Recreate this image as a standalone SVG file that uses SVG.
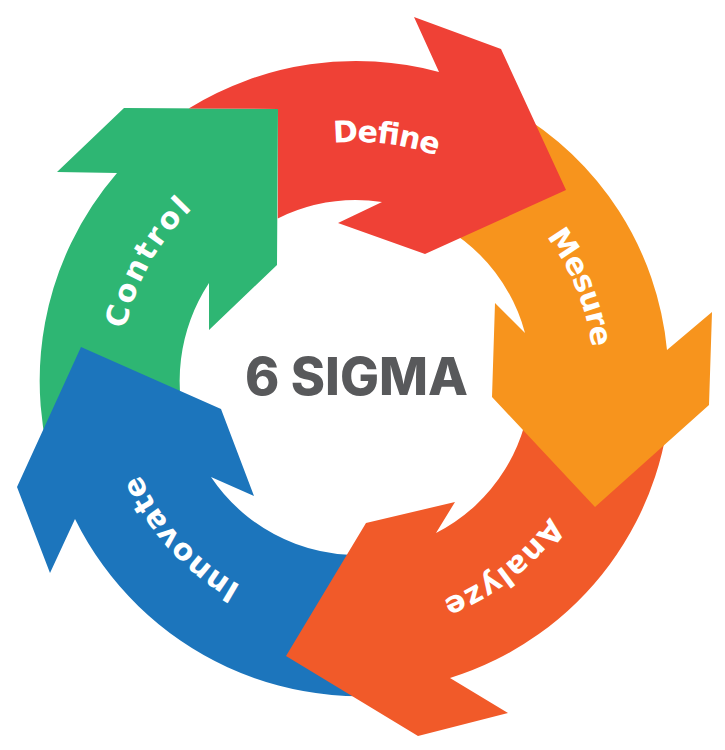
<svg xmlns="http://www.w3.org/2000/svg" width="725" height="750" viewBox="0 0 725 750">
  <style>
    .lbl { font-family: "DejaVu Sans", "Liberation Sans", sans-serif; font-weight: 700; font-size: 30px; fill: #ffffff; }
    .title { font-family: Inter, "Liberation Sans", sans-serif; font-weight: 800; font-size: 52px; fill: #58595B; }
  </style>
  <defs>
    <path id="ring" d="M 120,379 A 237 237 0 1 1 594,379 A 237 237 0 1 1 120,379"/>
  </defs>
  <rect width="725" height="750" fill="#ffffff"/>
  <g id="control">
    <path fill="#2EB673" d="M 58.2,487.8 A 318 318 0 0 1 117,173 L 57,172 L 124,108 L 278,109 L 277,265 L 209,330 L 209,283 A 178 178 0 0 0 189.7,439.9 Z"/>
    <text class="lbl"><textPath href="#ring" startOffset="120" text-anchor="middle" textLength="140" lengthAdjust="spacing">Control</textPath></text>
  </g>
  <g id="innovate">
    <path fill="#1C75BC" d="M 439.3,686.2 A 318 318 0 0 1 75,519 L 50,573 L 17,487 L 81,347 L 221,409 L 254,496 L 211,477 A 176 176 0 0 0 402.6,549 Z"/>
    <text class="lbl"><textPath href="#ring" startOffset="1314" text-anchor="middle" textLength="153" lengthAdjust="spacing">Innovate</textPath></text>
  </g>
  <g id="analyze">
    <path fill="#F15A29" d="M 671,379 A 314 314 0 0 1 450,678 L 508,713 L 418,736 L 286,656 L 366,523 L 455,502 L 436,533 A 174 174 0 0 0 531,379 Z"/>
    <text class="lbl"><textPath href="#ring" startOffset="960" text-anchor="middle" textLength="137" lengthAdjust="spacing">Analyze</textPath></text>
  </g>
  <g id="mesure">
    <path fill="#F7941D" d="M 512.5,109.7 A 311 311 0 0 1 667,350 L 712,312 L 709,405 L 595,507 L 492,397 L 495,303 L 525,333 A 175 175 0 0 0 444.5,227.4 Z"/>
    <text class="lbl"><textPath href="#ring" startOffset="652" text-anchor="middle" textLength="121" lengthAdjust="spacing">Mesure</textPath></text>
  </g>
  <g id="define">
    <path fill="#EF4136" d="M 188.7,108.4 A 319 319 0 0 1 439,72 L 414,17 L 501,49 L 566,190 L 425,254 L 338,223 L 382,202 A 179 179 0 0 0 277.8,218.4 L 278,109 Z"/>
    <text class="lbl"><textPath href="#ring" startOffset="401" text-anchor="middle" textLength="105" lengthAdjust="spacing">Define</textPath></text>
  </g>
  <g id="connectors"></g>
  <g id="center">
    <text class="title" x="356.5" y="395" text-anchor="middle" textLength="223" lengthAdjust="spacingAndGlyphs">6 SIGMA</text>
  </g>
</svg>
